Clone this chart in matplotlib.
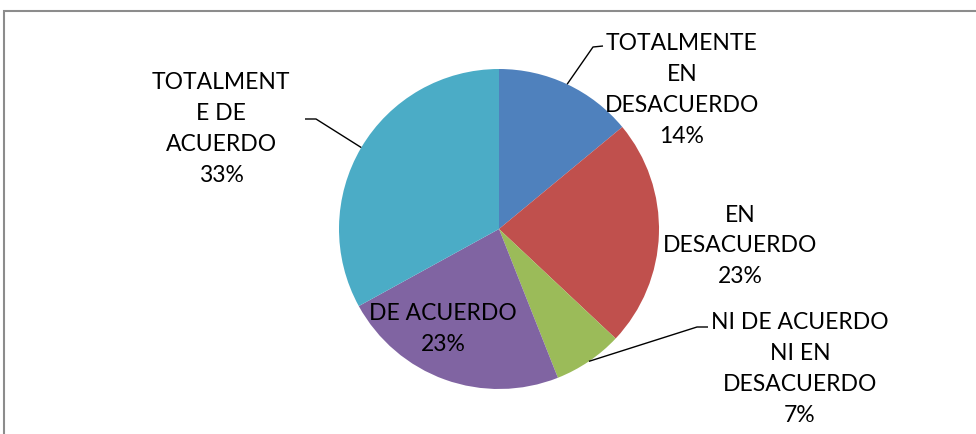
import matplotlib
matplotlib.use("Agg")
import matplotlib.pyplot as plt
import numpy as np
from matplotlib.patches import Rectangle

categories = ["TOTALMENTE\nEN\nDESACUERDO", "EN\nDESACUERDO", "NI DE ACUERDO\nNI EN\nDESACUERDO",
              "DE ACUERDO", "TOTALMENT\nE DE\nACUERDO"]
values = [14, 23, 7, 23, 33]
colors = ["#4F81BD", "#C0504D", "#9BBB59", "#8064A2", "#4BACC6"]

W, H = 976, 434
fig = plt.figure(figsize=(W / 100, H / 100), dpi=100)
ax = fig.add_axes([0, 0, 1, 1])

cx, cy, r = 499, H - 229, 160
wedges, _ = ax.pie(values, colors=colors, startangle=90, counterclock=False,
                   center=(cx, cy), radius=r, frame=True,
                   wedgeprops=dict(linewidth=0))
ax.set_xlim(0, W)
ax.set_ylim(0, H)
ax.set_aspect("equal")
ax.axis("off")

font = dict(family=["Lato", "DejaVu Sans"], fontsize=16.5, color="#000000")
# label block centres (pixel coords, y from top)
label_pos = [(682, 90), (740, 246), (800, 369), (443, 329), (221, 129)]
# leader elbows (knee, end) in pixel coords from top, None = no leader
leaders = [((593, 47), (603, 46)), None, ((697, 327), (708, 327)), None,
           ((316, 119), (305, 119))]

for i, (w, cat, v) in enumerate(zip(wedges, categories, values)):
    x, y = label_pos[i]
    ax.text(x, H - y, f"{cat}\n{v}%", ha="center", va="center",
            linespacing=1.58, **font)
    if leaders[i] is not None:
        mid = np.deg2rad((w.theta1 + w.theta2) / 2)
        px, py = cx + r * np.cos(mid), cy + r * np.sin(mid)
        (kx, ky), (ex, ey) = leaders[i]
        ax.plot([px, kx, ex], [py, H - ky, H - ey], color="black", lw=1.0,
                solid_capstyle="butt")

fig.patches.append(Rectangle((4 / W, -0.1), 1.2, (H - 11) / H + 0.1,
                             transform=fig.transFigure, fill=False,
                             edgecolor="#8c8c8c", linewidth=1.5))
fig.savefig("out.png", dpi=100, facecolor="white")
